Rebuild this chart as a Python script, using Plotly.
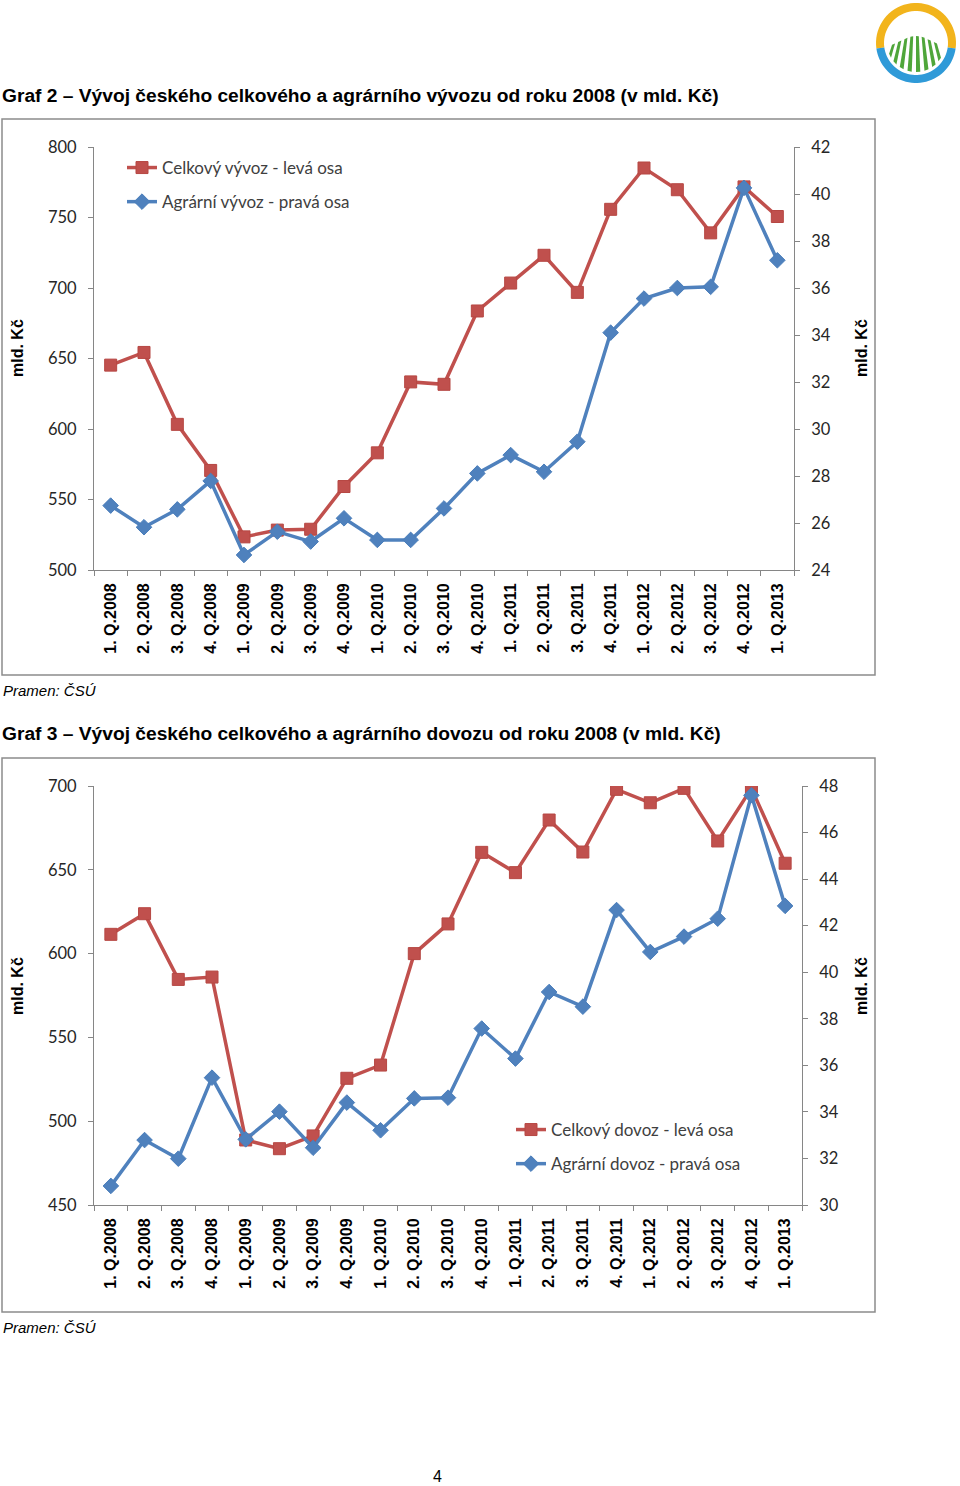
import numpy as np
import plotly.graph_objects as go

W, H = 960, 1486


def px(x):
    return x / W


def py(y):
    return 1 - y / H


categories = [
    "1. Q.2008", "2. Q.2008", "3. Q.2008", "4. Q.2008",
    "1. Q.2009", "2. Q.2009", "3. Q.2009", "4. Q.2009",
    "1. Q.2010", "2. Q.2010", "3. Q.2010", "4. Q.2010",
    "1. Q.2011", "2. Q.2011", "3. Q.2011", "4. Q.2011",
    "1. Q.2012", "2. Q.2012", "3. Q.2012", "4. Q.2012",
    "1. Q.2013",
]

export_total = [645.3, 654.3, 603.3, 570.6, 523.5, 528.3, 528.9, 559.2, 583.1, 633.4, 631.7,
                683.7, 703.5, 723.2, 696.9, 755.8, 785.1, 769.7, 739.1, 771.7, 750.7]
export_agri = [26.74, 25.82, 26.58, 27.79, 24.64, 25.63, 25.21, 26.20, 25.28, 25.28, 26.62,
               28.11, 28.89, 28.18, 29.46, 34.10, 35.55, 36.00, 36.05, 40.26, 37.18]

import_total = [611.5, 623.8, 584.6, 586.0, 488.8, 483.6, 491.2, 525.6, 533.5, 600.0, 617.7,
                660.4, 648.3, 679.7, 660.6, 698.0, 690.0, 698.6, 667.2, 698.6, 653.9]
import_agri = [30.82, 32.79, 31.99, 35.47, 32.82, 34.01, 32.46, 34.40, 33.21, 34.58, 34.61,
               37.58, 36.29, 39.15, 38.52, 42.67, 40.87, 41.53, 42.30, 47.60, 42.85]

RED = "#C0504D"
BLUE = "#4F81BD"
AX = "#868686"
TXT = "#262626"

fig = go.Figure()

fig.add_trace(go.Scatter(
    x=categories, y=export_total, name="Celkový vývoz - levá osa",
    xaxis="x", yaxis="y", mode="lines+markers",
    line=dict(color=RED, width=3.5),
    marker=dict(symbol="square", size=12, color=RED, line=dict(color="#B64743", width=1)),
    legend="legend", legendgroup="a"))
fig.add_trace(go.Scatter(
    x=categories, y=export_agri, name="Agrární vývoz - pravá osa",
    xaxis="x", yaxis="y2", mode="lines+markers",
    line=dict(color=BLUE, width=3.5),
    marker=dict(symbol="diamond", size=12, color=BLUE, line=dict(color="#4A7EBB", width=1)),
    legend="legend", legendgroup="b"))
fig.add_trace(go.Scatter(
    x=categories, y=import_total, name="Celkový dovoz - levá osa",
    xaxis="x2", yaxis="y3", mode="lines+markers",
    line=dict(color=RED, width=3.5),
    marker=dict(symbol="square", size=12, color=RED, line=dict(color="#B64743", width=1)),
    legend="legend2", legendgroup="c"))
fig.add_trace(go.Scatter(
    x=categories, y=import_agri, name="Agrární dovoz - pravá osa",
    xaxis="x2", yaxis="y4", mode="lines+markers",
    line=dict(color=BLUE, width=3.5),
    marker=dict(symbol="diamond", size=12, color=BLUE, line=dict(color="#4A7EBB", width=1)),
    legend="legend2", legendgroup="d"))

xcommon = dict(
    type="category", range=[-0.5, len(categories) - 0.5], tickangle=-90,
    ticks="outside", tickson="boundaries", ticklen=5, tickcolor=AX,
    showline=True, linecolor=AX, linewidth=1, showgrid=False, zeroline=False,
    tickfont=dict(family="Liberation Sans", size=16, color="#000000", weight="bold"),
    ticklabelstandoff=6, automargin=False, fixedrange=True,
)
ycommon = dict(
    ticks="outside", ticklen=5, tickcolor=AX, showline=True, linecolor=AX, linewidth=1,
    showgrid=False, zeroline=False, automargin=False,
    tickfont=dict(family="Lato", size=16.5, color=TXT), ticklabelstandoff=8,
)

leg_font = dict(family="Lato", size=17, color="#404040")

fig.update_layout(
    width=W, height=H,
    margin=dict(l=0, r=0, t=0, b=0),
    paper_bgcolor="white", plot_bgcolor="white",
    xaxis=dict(domain=[px(94), px(794)], anchor="y", **xcommon),
    yaxis=dict(domain=[py(570), py(147)], anchor="x", range=[500, 800], dtick=50, **ycommon),
    yaxis2=dict(overlaying="y", anchor="x", side="right", range=[24, 42], dtick=2, **ycommon),
    xaxis2=dict(domain=[px(94), px(802)], anchor="y3", **xcommon),
    yaxis3=dict(domain=[py(1205), py(786)], anchor="x2", range=[450, 700], dtick=50, **ycommon),
    yaxis4=dict(overlaying="y3", anchor="x2", side="right", range=[30, 48], dtick=2, **ycommon),
    legend=dict(x=px(122), y=py(150), xanchor="left", yanchor="top", font=leg_font,
                tracegroupgap=9, bgcolor="rgba(0,0,0,0)"),
    legend2=dict(x=px(511), y=py(1112), xanchor="left", yanchor="top", font=leg_font,
                 tracegroupgap=9, bgcolor="rgba(0,0,0,0)"),
    showlegend=True,
)

# Text annotations
title_font = dict(family="Liberation Sans", size=19.2, color="#000000", weight="bold")
ann = [
    dict(text="Graf 2 – Vývoj českého celkového a agrárního vývozu od roku 2008 (v mld. Kč)",
         x=px(0), y=py(95), xanchor="left", yanchor="middle", font=title_font),
    dict(text="Graf 3 – Vývoj českého celkového a agrárního dovozu od roku 2008 (v mld. Kč)",
         x=px(0), y=py(734), xanchor="left", yanchor="middle", font=title_font),
    dict(text="<i>Pramen: ČSÚ</i>", x=px(1), y=py(690), xanchor="left", yanchor="middle",
         font=dict(family="Liberation Sans", size=15, color="#000000")),
    dict(text="<i>Pramen: ČSÚ</i>", x=px(1), y=py(1327), xanchor="left", yanchor="middle",
         font=dict(family="Liberation Sans", size=15, color="#000000")),
    dict(text="4", x=px(437), y=py(1476), xanchor="center", yanchor="middle", borderpad=0,
         font=dict(family="Liberation Sans", size=16, color="#000000")),
]
axis_title_font = dict(family="Liberation Sans", size=16, color="#000000", weight="bold")
for (xx, yy) in [(17, 348), (861, 348), (17, 986), (861, 986)]:
    ann.append(dict(text="mld. Kč", x=px(xx), y=py(yy), xanchor="center", yanchor="middle",
                    textangle=-90, font=axis_title_font))
for a in ann:
    a.update(xref="paper", yref="paper", showarrow=False)
fig.update_layout(annotations=ann)

# Chart frames
shapes = []
for (x0, y0, x1, y1) in [(2, 119, 875, 675), (2, 758, 875, 1312)]:
    shapes.append(dict(type="rect", xref="paper", yref="paper",
                       x0=px(x0), y0=py(y0), x1=px(x1), y1=py(y1),
                       line=dict(color="#8C8C8C", width=1.5), fillcolor="rgba(0,0,0,0)",
                       layer="below"))

# Logo (decorative)
cx, cy, R1, R2 = 916, 43, 40, 32


def arc_path(a0, a1, r_out, r_in, n=40):
    t = np.linspace(np.radians(a0), np.radians(a1), n)
    outer = [(cx + r_out * np.cos(a), cy - r_out * np.sin(a)) for a in t]
    inner = [(cx + r_in * np.cos(a), cy - r_in * np.sin(a)) for a in t[::-1]]
    pts = outer + inner
    return "M " + " L ".join(f"{px(x):.5f},{py(y):.5f}" for x, y in pts) + " Z"


shapes.append(dict(type="path", xref="paper", yref="paper", path=arc_path(-8, 188, R1, R2),
                   fillcolor="#F2B41C", line=dict(width=0)))
shapes.append(dict(type="path", xref="paper", yref="paper", path=arc_path(188, 352, R1, R2),
                   fillcolor="#2F9AD8", line=dict(width=0)))

V = (916, -30)
ytop = 36
angs = np.linspace(202, 338, 17)
for k in range(0, 16, 2):
    a1, a2 = np.radians(angs[k]), np.radians(angs[k + 1])
    B1 = (cx + 29 * np.cos(a1), cy - 29 * np.sin(a1))
    B2 = (cx + 29 * np.cos(a2), cy - 29 * np.sin(a2))

    def top(B):
        yt = ytop + 0.012 * (B[0] - cx) ** 2
        t = (yt - V[1]) / (B[1] - V[1])
        return (V[0] + t * (B[0] - V[0]), yt)

    T1, T2 = top(B1), top(B2)
    pts = [T1, B1, B2, T2]
    path = "M " + " L ".join(f"{px(x):.5f},{py(y):.5f}" for x, y in pts) + " Z"
    shapes.append(dict(type="path", xref="paper", yref="paper", path=path,
                       fillcolor="#4FA63A", line=dict(width=0)))

fig.update_layout(shapes=shapes)

fig.write_html("out.html", config={"displayModeBar": False},
               post_script="document.body.style.margin='0';")
